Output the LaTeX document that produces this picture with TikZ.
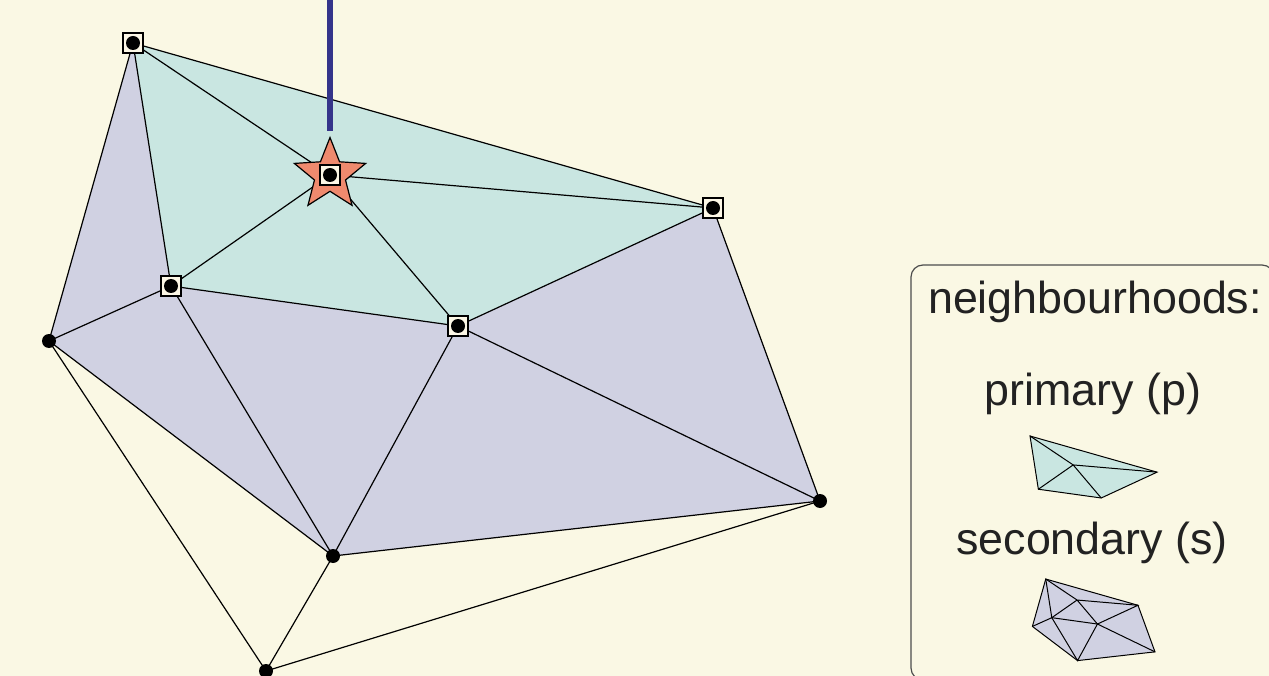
\documentclass[tikz,border=0pt]{standalone}
\usepackage{fontspec}
\setmainfont{Liberation Sans}
\usetikzlibrary{shapes.geometric}
\definecolor{bg}{HTML}{FAF8E4}
\definecolor{prim}{HTML}{C9E6E1}
\definecolor{sec}{HTML}{D0D1E2}
\definecolor{starc}{HTML}{EF8A6E}
\definecolor{sqc}{HTML}{FCF7E6}
\definecolor{barc}{HTML}{34348A}
\definecolor{txt}{HTML}{222222}
\newcommand\meshpts[1]{%
 \coordinate (#1A) at (133,43);
 \coordinate (#1C) at (330,175);
 \coordinate (#1B) at (713,208);
 \coordinate (#1D) at (171,286);
 \coordinate (#1E) at (458,326);
 \coordinate (#1F) at (49,341);
 \coordinate (#1G) at (820,501);
 \coordinate (#1H) at (333,556);
 \coordinate (#1I) at (266,671);}
\newcommand\primedges[1]{%
 \draw (#1A) -- (#1B) -- (#1E) -- (#1D) -- cycle;
 \draw (#1A) -- (#1C) (#1B) -- (#1C) (#1D) -- (#1C) (#1E) -- (#1C);}
\newcommand\secedges[1]{%
 \draw (#1A) -- (#1F) -- (#1H) -- (#1G) -- (#1B);
 \draw (#1F) -- (#1D) -- (#1H) -- (#1E) -- (#1G);}
\begin{document}
\begin{tikzpicture}[x=1pt,y=-1pt,
  mesh/.style={line width=1.2pt, black},
  icon/.style={line width=1pt, black},
  sqmark/.style={rectangle, draw=black, line width=1.6pt, fill=sqc, minimum size=20pt, inner sep=0pt},
  dotmark/.style={circle, fill=black, minimum size=14pt, inner sep=0pt},
  starmark/.style={star, star points=5, star point ratio=2.3, minimum size=75pt, inner sep=0pt, fill=starc, draw=black, line width=1.2pt},
  legtext/.style={anchor=base, text=txt, font=\fontsize{44.8}{54}\selectfont, inner sep=0pt}]
\fill[bg] (0,0) rectangle (1269,676);
\useasboundingbox (0,0) rectangle (1269,676);
% main mesh
\meshpts{}
\fill[sec] (A) -- (B) -- (G) -- (H) -- (F) -- cycle;
\fill[prim] (A) -- (B) -- (E) -- (D) -- cycle;
\begin{scope}[mesh]
 \primedges{}
 \secedges{}
 \draw (F) -- (I) -- (H) (I) -- (G);
\end{scope}
% bar
\coordinate (bartop) at (330,0);
\coordinate (barend) at (330,131);
\draw[barc, line width=6.5pt] (bartop) -- (barend);
% markers
\node[starmark] (star) at (C) {};
\foreach \p in {A,B,C,D,E} { \node[sqmark] (sq\p) at (\p) {}; }
\foreach \p in {A,B,C,D,E,F,G,H,I} { \node[dotmark] (dot\p) at (\p) {}; }
% legend
\begin{scope}
\clip (0,0) rectangle (1269,676);
\draw[rounded corners=12pt, line width=1.2pt, draw=black!70] (911,265) rectangle (1274,680);
\end{scope}
\node[legtext] (t1) at (1095,313) {neighbourhoods:};
\node[legtext] (t2) at (1093,405) {primary (p)};
\node[legtext] (t3) at (1092,554) {secondary (s)};
\begin{scope}[shift={(1000.9,426.6)}, scale=0.219]
 \meshpts{p}
 \fill[prim] (pA) -- (pB) -- (pE) -- (pD) -- cycle;
 \begin{scope}[icon]\primedges{p}\end{scope}
\end{scope}
\begin{scope}[shift={(1024.6,572.2)}, scale=0.159]
 \meshpts{s}
 \fill[sec] (sA) -- (sB) -- (sG) -- (sH) -- (sF) -- cycle;
 \begin{scope}[icon]\primedges{s}\secedges{s}\end{scope}
\end{scope}
\end{tikzpicture}
\end{document}
